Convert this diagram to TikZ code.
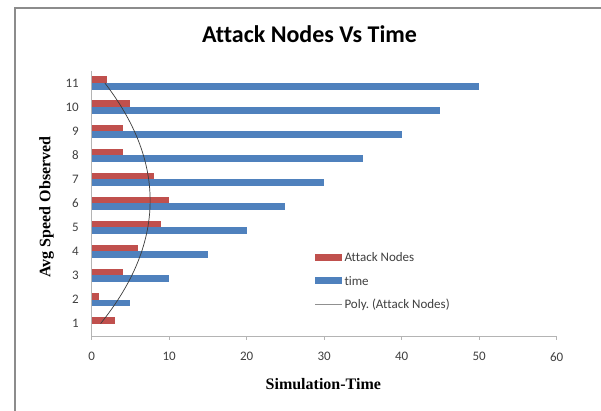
\documentclass[tikz,border=0pt]{standalone}
\usepackage{fontspec}
\setmainfont{Liberation Serif}
\newfontfamily\chartsans[Ligatures=NoCommon]{Carlito}
\definecolor{attackred}{HTML}{C0504D}
\definecolor{timeblue}{HTML}{4F81BD}
\definecolor{axisgray}{HTML}{B4B4B4}
\definecolor{labelgray}{HTML}{404040}
\definecolor{framegray}{HTML}{8C8C8C}
\definecolor{trendgray}{HTML}{3C3C3C}
\definecolor{legendline}{HTML}{909090}

\begin{document}
\begin{tikzpicture}[x=1pt,y=1pt,
  frameline/.style={draw=framegray, line width=1.3},
  axisline/.style={draw=axisgray, line width=1},
  ticklabel/.style={font=\chartsans\fontsize{13}{13}\selectfont, text=labelgray, inner sep=0pt},
  legendtext/.style={font=\chartsans\fontsize{13}{13}\selectfont, text=labelgray, anchor=west, inner sep=0pt},
  titletext/.style={font=\chartsans\bfseries\fontsize{24}{24}\selectfont, text=black, inner sep=0pt},
  axistitle/.style={font=\bfseries\fontsize{16}{16}\selectfont, text=black, inner sep=0pt},
  attackbar/.style={fill=attackred},
  timebar/.style={fill=timeblue},
  trendline/.style={draw=trendgray, line width=0.7}
]
% canvas and outer frame
\useasboundingbox (0,0) rectangle (601,411);
\fill[white] (0,0) rectangle (601,411);
\draw[frameline] (15,0) -- (15,403) -- (601,403);

% axis geometry: origin, length of one unit, category pitch
\def\xz{91.7}
\def\xs{7.75}
\def\ybase{74.3}
\def\ytop{340}
\def\cfirst{87.4}
\def\cpitch{24.06}
\def\bh{6.6}

% bars: category / attack nodes / time
\foreach \k/\a/\t in {1/3/0, 2/1/5, 3/4/10, 4/6/15, 5/9/20, 6/10/25,
                      7/8/30, 8/4/35, 9/4/40, 10/5/45, 11/2/50}{
  \pgfmathsetmacro\c{\cfirst+\cpitch*(\k-1)}
  \fill[attackbar] (\xz,\c) rectangle ({\xz+\xs*\a},{\c+\bh});
  \fill[timebar] (\xz,{\c-\bh}) rectangle ({\xz+\xs*\t},\c);
  \node[ticklabel, anchor=east] (cat\k) at (79,\c) {\k};
}

% axes
\coordinate (axtop) at (\xz,\ytop);
\coordinate (axorig) at (\xz,\ybase);
\coordinate (axend) at (556.7,\ybase);
\draw[axisline] (axtop) -- (axorig) -- (axend);
\foreach \v in {0,10,...,60}{
  \pgfmathsetmacro\px{\xz+\xs*\v}
  \draw[axisline] (\px,\ybase) -- (\px,\ybase-3);
  \node[ticklabel] (tick\v) at (\px,54.3) {\v};
}

% second order polynomial trend of the attack nodes series
\draw[trendline, domain=1:11, samples=60, smooth, variable=\k]
  plot ({\xz+\xs*(7.5385+0.05455*(\k-6)-0.24476*(\k-6)^2)},
        {\cfirst+\cpitch*(\k-1)});

% titles
\node[titletext] (title) at (309.5,377) {Attack Nodes Vs Time};
\node[axistitle, rotate=90] (ytitle) at (46.5,204) {Avg Speed Observed};
\node[axistitle] (xtitle) at (323.3,27) {Simulation-Time};

% legend
\fill[attackred] (315,150.3) rectangle (341.7,157.1);
\node[legendtext] (legattack) at (344.3,153.7) {Attack Nodes};
\fill[timeblue] (315,126.9) rectangle (341.7,133.7);
\node[legendtext] (legtime) at (344.3,130.3) {time};
\draw[draw=legendline, line width=1] (315,106.7) -- (341.7,106.7);
\node[legendtext] (legpoly) at (344.3,106.7) {Poly.\ (Attack Nodes)};
\end{tikzpicture}
\end{document}
